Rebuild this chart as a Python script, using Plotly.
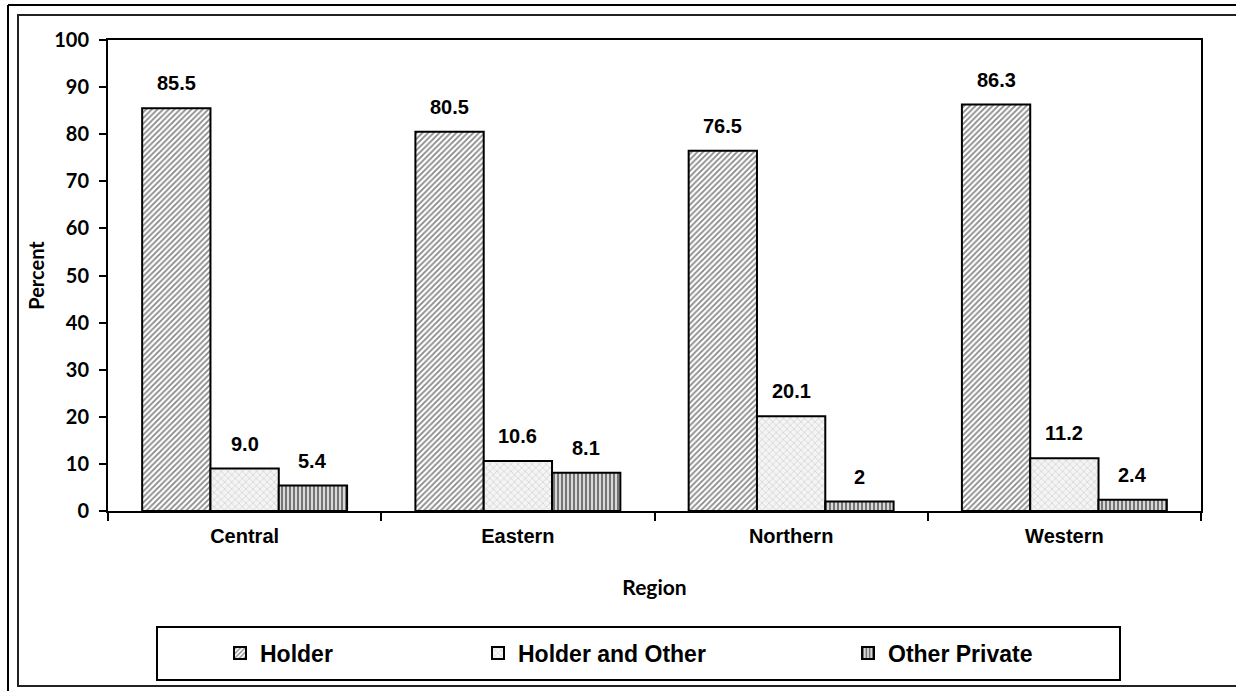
import plotly.graph_objects as go

# chart data
regions = ["Central", "Eastern", "Northern", "Western"]
holder = [85.5, 80.5, 76.5, 86.3]
holder_other = [9.0, 10.6, 20.1, 11.2]
other_private = [5.4, 8.1, 2, 2.4]
holder_lbl = ["85.5", "80.5", "76.5", "86.3"]
holder_other_lbl = ["9.0", "10.6", "20.1", "11.2"]
other_private_lbl = ["5.4", "8.1", "2", "2.4"]

W, H = 1236, 691
L, R, T, B = 108, 35, 40, 180
PW, PH = W - L - R, H - T - B


def px(x):
    return (x - L) / PW


def py(y):
    return (H - B - y) / PH


series = [
    ("Holder", holder, holder_lbl,
     dict(shape="/", fgcolor="#111111", bgcolor="white", size=4, solidity=0.45), "legend", -68.3),
    ("Holder and Other", holder_other, holder_other_lbl,
     dict(shape="x", fgcolor="#b8b8b8", bgcolor="#f4f4f4", size=5, solidity=0.3), "legend2", 0),
    ("Other Private", other_private, other_private_lbl,
     dict(shape="|", fgcolor="#111111", bgcolor="#d8d8d8", size=4, solidity=0.5), "legend3", 68.3),
]

fig = go.Figure()
annotations = []
for name, vals, lbls, patt, leg, shift in series:
    fig.add_trace(go.Bar(
        x=regions, y=vals, name=name, legend=leg, showlegend=True,
        marker=dict(color="white", pattern=patt, line=dict(color="black", width=2)),
    ))
    for r, v, t in zip(regions, vals, lbls):
        annotations.append(dict(
            x=r, y=v, xref="x", yref="y", text=t, showarrow=False,
            xshift=shift, yshift=12, yanchor="bottom",
            font=dict(family="Liberation Sans", size=20, color="black", weight="bold"),
        ))

leg_font = dict(family="Liberation Sans", size=23, color="black", weight="bold")
leg_common = dict(orientation="h", yanchor="middle", xanchor="left", y=py(653),
                  font=leg_font, bgcolor="rgba(0,0,0,0)", itemwidth=30)

shapes = [
    # outer frames
    dict(type="line", xref="paper", yref="paper", x0=px(8), x1=px(1240), y0=py(5), y1=py(5),
         line=dict(color="black", width=2)),
    dict(type="line", xref="paper", yref="paper", x0=px(8), x1=px(8), y0=py(5), y1=py(695),
         line=dict(color="black", width=2)),
    dict(type="rect", xref="paper", yref="paper", x0=px(18), x1=px(1245), y0=py(15), y1=py(686),
         line=dict(color="#222222", width=2)),
    # legend box
    dict(type="rect", xref="paper", yref="paper", x0=px(157), x1=px(1120), y0=py(627), y1=py(680),
         line=dict(color="black", width=2)),
]

fig.update_layout(
    width=W, height=H,
    margin=dict(l=L, r=R, t=T, b=B),
    paper_bgcolor="white", plot_bgcolor="white",
    barmode="group", bargap=0.25, bargroupgap=0,
    showlegend=True,
    annotations=annotations,
    shapes=shapes,
    legend=dict(x=px(220), **leg_common),
    legend2=dict(x=px(478), **leg_common),
    legend3=dict(x=px(848), **leg_common),
)

fig.update_xaxes(
    type="category", tickson="boundaries", ticks="outside", ticklen=8, tickwidth=2,
    tickcolor="black", showline=True, linecolor="black", linewidth=2, mirror=True,
    ticklabelstandoff=6,
    tickfont=dict(family="Liberation Sans", size=20, color="black", weight="bold"),
    title=dict(text="Region", standoff=34,
               font=dict(family="Lato", size=21, color="black", weight="bold")),
)
fig.update_yaxes(
    range=[0, 100], dtick=10, ticks="outside", ticklen=7, tickwidth=2, tickcolor="black",
    showline=True, linecolor="black", linewidth=2, mirror=True, showgrid=False, zeroline=False,
    ticklabelstandoff=6,
    tickfont=dict(family="Lato", size=20, color="black", weight="bold"),
    title=dict(text="Percent", standoff=4,
               font=dict(family="Lato", size=20, color="black", weight="bold")),
)

fig.write_html("out.html", config={"displayModeBar": False},
               post_script="document.body.style.margin='0';")
